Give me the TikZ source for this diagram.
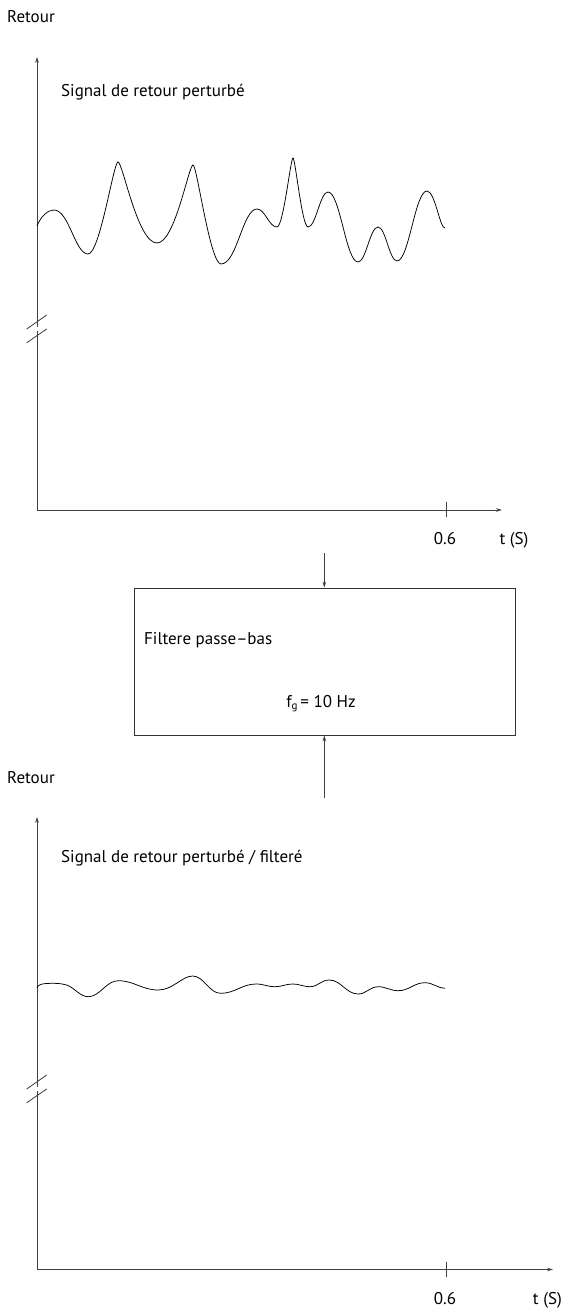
\documentclass[tikz,border=0pt]{standalone}
\usepackage{fontspec}
\setmainfont{PT Sans}
\usetikzlibrary{arrows.meta}
\begin{document}
\begin{tikzpicture}[x=1pt,y=-1pt,
  axis/.style={line width=0.75pt, draw=black!75},
  arr/.style={-{Stealth[length=6pt,width=3.6pt]}},
  curve/.style={line width=0.75pt, draw=black},
  brk/.style={line width=0.75pt, draw=black!80},
  lbl/.style={font=\fontsize{17}{20}\selectfont, inner sep=0pt}]
\useasboundingbox (0,0) rectangle (563,1309);

% ---------- top graph ----------
\node[lbl, anchor=base west] (ret1) at (7,22.5) {Retour};
\node[lbl, anchor=base west] (sig1) at (61,96) {Signal de retour perturbé};
\coordinate (o1) at (37,510);
\coordinate (y1) at (37,57);
\coordinate (x1) at (502,510);
\coordinate (b1a) at (37,331);
\coordinate (b1b) at (37,327);
\draw[axis] (o1) -- (b1a);
\draw[axis, arr] (b1b) -- (y1);
\draw[axis, arr] (o1) -- (x1);
\draw[brk] (26.7,329) -- (46.7,315);
\draw[brk] (26.7,342.7) -- (46.7,329);
\coordinate (t1a) at (446,502);
\coordinate (t1b) at (446,517);
\draw[axis] (t1a) -- (t1b);
\node[lbl, anchor=base] (z1) at (445,544) {0.6};
\node[lbl, anchor=base] (ts1) at (514,544) {t (S)};

\draw[curve] (37,226) .. controls (41,216) and (48,210) .. (54,210)
 .. controls (69,210) and (75,254) .. (88,254)
 .. controls (100,254) and (113.5,162) .. (118,162)
 .. controls (122.7,162) and (137.5,243) .. (157,243)
 .. controls (175,243) and (188.7,165) .. (193,165)
 .. controls (197,165) and (210,264) .. (221,264)
 .. controls (237,264) and (242.6,209) .. (257,209)
 .. controls (265,209) and (269,227) .. (277,227)
 .. controls (283.4,227) and (290.6,158) .. (293,158)
 .. controls (295.3,158) and (302,227) .. (308,227)
 .. controls (316,227) and (320,192) .. (328,192)
 .. controls (340,192) and (346,262) .. (358,262)
 .. controls (366,262) and (370,227) .. (378,227)
 .. controls (385.6,227) and (389.4,261) .. (397,261)
 .. controls (409,261) and (415,191) .. (427,191)
 .. controls (435,191) and (440,229) .. (445,228);

% ---------- filter box ----------
\node[draw=black!80, line width=0.75pt, minimum width=381pt, minimum height=147pt, inner sep=0pt] (box) at (324.6,661.5) {};
\node[lbl, anchor=base west] (ft) at (144,644) {Filtere passe–bas};
\node[lbl, anchor=base] (fg) at (321,707) {f\raisebox{-2.5pt}{\fontsize{11}{13}\selectfont g}\,= 10 Hz};
\coordinate (in) at (324.3,553);
\coordinate (out) at (324.3,798);
\draw[axis, arr] (in) -- (box.north -| in);
\draw[axis, arr] (out) -- (box.south -| out);

% ---------- bottom graph ----------
\node[lbl, anchor=base west] (ret2) at (7,783) {Retour};
\node[lbl, anchor=base west] (sig2) at (61,862) {Signal de retour perturbé / filteré};
\coordinate (o2) at (37,1269.5);
\coordinate (y2) at (37,817);
\coordinate (x2) at (553,1269.5);
\coordinate (b2a) at (37,1091);
\coordinate (b2b) at (37,1087);
\draw[axis] (o2) -- (b2a);
\draw[axis, arr] (b2b) -- (y2);
\draw[axis, arr] (o2) -- (x2);
\draw[brk] (26.7,1089) -- (46.7,1075);
\draw[brk] (26.7,1102.7) -- (46.7,1089);
\coordinate (t2a) at (446,1262);
\coordinate (t2b) at (446,1277);
\draw[axis] (t2a) -- (t2b);
\node[lbl, anchor=base] (z2) at (445,1304) {0.6};
\node[lbl, anchor=base east] (ts2) at (562,1304) {t (S)};

\draw[curve] (37,988) .. controls (38,985) and (40,983.3) .. (53,983.3)
 .. controls (60,983.3) and (63,984) .. (66.7,985)
 .. controls (75,988) and (80,996.7) .. (88.3,996.7)
 .. controls (100,996.7) and (106,980.7) .. (118.3,980.7)
 .. controls (134,980.7) and (142,990) .. (158.3,990)
 .. controls (173,990) and (182,976) .. (192.7,976)
 .. controls (204,976) and (209,993.3) .. (220.7,993.3)
 .. controls (235,993.3) and (242,984) .. (256,984)
 .. controls (264,984) and (267,986.7) .. (275,986.7)
 .. controls (282,986.7) and (285.7,984) .. (292.7,984)
 .. controls (300,984) and (303,986.7) .. (310,986.7)
 .. controls (318,986.7) and (321,980) .. (329.3,980)
 .. controls (341,980) and (346,994) .. (358.3,994)
 .. controls (366,994) and (370,986.7) .. (378.3,986.7)
 .. controls (386,986.7) and (390,990.7) .. (398.3,990.7)
 .. controls (409,990.7) and (414,982.7) .. (425,982.7)
 .. controls (433,982.7) and (438,988.3) .. (445,988.3);
\end{tikzpicture}
\end{document}
